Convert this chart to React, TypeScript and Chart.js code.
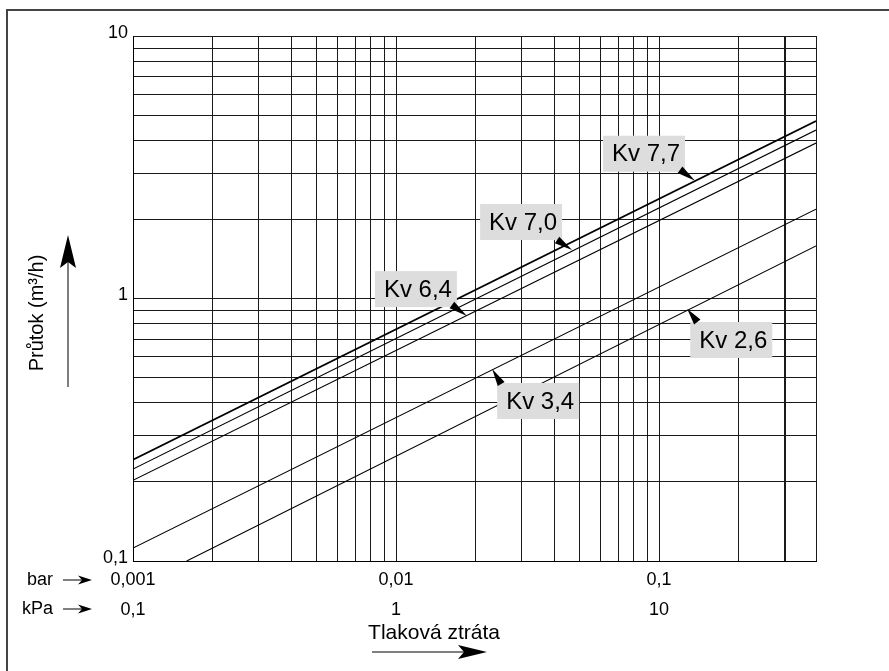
import React, { useEffect, useRef } from 'react';
import { Chart, registerables } from 'chart.js';

Chart.register(...registerables);

// ---- data ----
const seriesNames = ['Kv 7,7', 'Kv 7,0', 'Kv 6,4', 'Kv 3,4', 'Kv 2,6'];
const kv77X = [0.001, 0.395];
const kv77Y = [0.243, 4.74];
const kv70X = [0.001, 0.395];
const kv70Y = [0.224, 4.38];
const kv64X = [0.001, 0.395];
const kv64Y = [0.203, 3.91];
const kv34X = [0.001, 0.395];
const kv34Y = [0.112, 2.19];
const kv26X = [0.0016, 0.395];
const kv26Y = [0.1, 1.585];

// annotation arrow tips (data coordinates: bar, m3/h)
const labelTipX = [0.137, 0.0467, 0.0186, 0.0232, 0.128];
const labelTipY = [2.81, 1.53, 0.857, 0.539, 0.912];

// axes
const xMin = 0.001;
const xMax = 0.395;
const yMin = 0.1;
const yMax = 10;
const xDecades = [0.001, 0.01, 0.1];
const yDecades = [0.1, 1];
const gridMultipliers = [1, 2, 3, 4, 5, 6, 7, 8, 9];
const xMajorTicks = [0.001, 0.01, 0.1];
const xBarLabels = ['0,001', '0,01', '0,1'];
const xKpaLabels = ['0,1', '1', '10'];
const yMajorTicks = [0.1, 1, 10];
const yTickLabels = ['0,1', '1', '10'];
const thickGridX = 0.3;

const xTitle = 'Tlaková ztráta';
const yTitle = 'Průtok (m³/h)';
const unitBar = 'bar';
const unitKpa = 'kPa';

// ---- styles / layout (kept separate from data) ----
const FONT = '"Liberation Sans", Arial, Helvetica, sans-serif';
const labelOffsets = [
  { bx: -92, by: -45, tx: -15, ty: -11 },
  { bx: -92, by: -46, tx: -15, ty: -10 },
  { bx: -92, by: -45, tx: -15, ty: -11 },
  { bx: 5, by: 14, tx: 9, ty: 15 },
  { bx: 3, by: 13, tx: 10, ty: 13 },
];
const seriesWidths = [1.8, 1.1, 1.1, 1.1, 1.1];

const same = (a: number, b: number) => Math.abs(Math.log10(a) - Math.log10(b)) < 1e-6;

function buildGrid(decades: number[], min: number, max: number): number[] {
  const vals: number[] = [];
  decades.forEach((d) => gridMultipliers.forEach((m) => {
    const v = +(d * m).toPrecision(6);
    if (v >= min - 1e-12 && v <= max + 1e-12) vals.push(v);
  }));
  if (!vals.some((v) => same(v, max))) vals.push(max);
  return vals;
}

function arrowHead(ctx: CanvasRenderingContext2D, tipX: number, tipY: number, fromX: number, fromY: number, halfW: number) {
  const dx = tipX - fromX;
  const dy = tipY - fromY;
  const len = Math.hypot(dx, dy) || 1;
  const px = -dy / len;
  const py = dx / len;
  ctx.beginPath();
  ctx.moveTo(tipX, tipY);
  ctx.lineTo(fromX + px * halfW, fromY + py * halfW);
  ctx.lineTo(fromX - px * halfW, fromY - py * halfW);
  ctx.closePath();
  ctx.fill();
}

const decorPlugin = {
  id: 'decor',
  beforeDraw(chart: any) {
    const ctx: CanvasRenderingContext2D = chart.ctx;
    ctx.save();
    ctx.fillStyle = '#ffffff';
    ctx.fillRect(0, 0, chart.width, chart.height);
    ctx.strokeStyle = '#444';
    ctx.lineWidth = 2;
    ctx.strokeRect(7, 10, chart.width + 20, chart.height + 20);
    ctx.restore();
  },
  afterDatasetsDraw(chart: any) {
    const ctx: CanvasRenderingContext2D = chart.ctx;
    const xs = chart.scales.x;
    const ys = chart.scales.y;
    ctx.save();
    seriesNames.forEach((name, i) => {
      const tx = xs.getPixelForValue(labelTipX[i]);
      const ty = ys.getPixelForValue(labelTipY[i]);
      const o = labelOffsets[i];
      const bx = tx + o.bx;
      const by = ty + o.by;
      ctx.fillStyle = '#dddddd';
      ctx.fillRect(bx, by, 82, 36);
      ctx.fillStyle = '#000';
      ctx.font = `24px ${FONT}`;
      ctx.textAlign = 'center';
      ctx.textBaseline = 'middle';
      ctx.fillText(name, bx + 43, by + 19);
      arrowHead(ctx, tx, ty, tx + o.tx, ty + o.ty, 4);
    });
    ctx.restore();
  },
  afterDraw(chart: any) {
    const ctx: CanvasRenderingContext2D = chart.ctx;
    const a = chart.chartArea;
    ctx.save();
    ctx.fillStyle = '#000';
    ctx.strokeStyle = '#555';
    // unit rows
    ctx.font = `18px ${FONT}`;
    ctx.textAlign = 'right';
    ctx.textBaseline = 'middle';
    const rows = [{ t: unitBar, y: a.bottom + 19 }, { t: unitKpa, y: a.bottom + 48 }];
    rows.forEach((r) => {
      ctx.fillText(r.t, a.left - 80, r.y);
      ctx.lineWidth = 1.5;
      ctx.beginPath();
      ctx.moveTo(a.left - 70, r.y);
      ctx.lineTo(a.left - 50, r.y);
      ctx.stroke();
      ctx.fillStyle = '#000';
      ctx.beginPath();
      ctx.moveTo(a.left - 41, r.y);
      ctx.lineTo(a.left - 55, r.y - 4.5);
      ctx.lineTo(a.left - 51, r.y);
      ctx.lineTo(a.left - 55, r.y + 4.5);
      ctx.closePath();
      ctx.fill();
    });
    // x title
    ctx.font = `21px ${FONT}`;
    ctx.textAlign = 'center';
    ctx.textBaseline = 'middle';
    ctx.fillText(xTitle, a.left + 301, a.bottom + 72);
    const ay = a.bottom + 91;
    ctx.lineWidth = 1.5;
    ctx.beginPath();
    ctx.moveTo(a.left + 239, ay);
    ctx.lineTo(a.left + 332, ay);
    ctx.stroke();
    ctx.beginPath();
    ctx.moveTo(a.left + 354, ay);
    ctx.lineTo(a.left + 325, ay - 7);
    ctx.lineTo(a.left + 331, ay);
    ctx.lineTo(a.left + 325, ay + 7);
    ctx.closePath();
    ctx.fill();
    // y title
    ctx.save();
    ctx.translate(a.left - 96, a.top + 277);
    ctx.rotate(-Math.PI / 2);
    ctx.font = `20px ${FONT}`;
    ctx.textAlign = 'center';
    ctx.textBaseline = 'middle';
    ctx.fillText(yTitle, 0, 0);
    ctx.restore();
    const ax = a.left - 65;
    ctx.beginPath();
    ctx.moveTo(ax, a.top + 351);
    ctx.lineTo(ax, a.top + 225);
    ctx.stroke();
    ctx.beginPath();
    ctx.moveTo(ax, a.top + 199);
    ctx.lineTo(ax - 8, a.top + 232);
    ctx.lineTo(ax, a.top + 226);
    ctx.lineTo(ax + 8, a.top + 232);
    ctx.closePath();
    ctx.fill();
    ctx.restore();
  },
};

export default function App() {
  const ref = useRef<HTMLCanvasElement | null>(null);
  useEffect(() => {
    if (!ref.current) return;
    const mk = (xs: number[], ys: number[]) => xs.map((x, i) => ({ x, y: ys[i] }));
    const series = [mk(kv77X, kv77Y), mk(kv70X, kv70Y), mk(kv64X, kv64Y), mk(kv34X, kv34Y), mk(kv26X, kv26Y)];
    const xGrid = buildGrid(xDecades, xMin, xMax);
    const yGrid = buildGrid(yDecades, yMin, yMax);
    const chart = new Chart(ref.current, {
      type: 'line',
      data: {
        datasets: series.map((d, i) => ({
          label: seriesNames[i],
          data: d,
          borderColor: '#000',
          borderWidth: seriesWidths[i],
          pointRadius: 0,
          fill: false,
          tension: 0,
        })),
      },
      options: {
        animation: false,
        responsive: false,
        maintainAspectRatio: false,
        devicePixelRatio: 1,
        layout: { padding: { left: 73, right: 73, top: 36, bottom: 30 } },
        plugins: { legend: { display: false }, tooltip: { enabled: false } },
        scales: {
          x: {
            type: 'logarithmic',
            min: xMin,
            max: xMax,
            afterBuildTicks: (s: any) => { s.ticks = xGrid.map((v) => ({ value: v })); },
            afterFit: (s: any) => { s.height = 80; },
            border: { display: true, color: '#000', width: 1 },
            grid: {
              drawTicks: false,
              color: '#1a1a1a',
              lineWidth: (c: any) => (c.tick && same(c.tick.value, thickGridX) ? 2 : 1),
            },
            ticks: {
              autoSkip: false,
              maxRotation: 0,
              minRotation: 0,
              padding: 4,
              color: '#000',
              font: { family: FONT, size: 18, lineHeight: 30 / 18 },
              callback: (v: any) => {
                const i = xMajorTicks.findIndex((m) => same(m, Number(v)));
                return i >= 0 ? [xBarLabels[i], xKpaLabels[i]] : '';
              },
            },
          },
          y: {
            type: 'logarithmic',
            min: yMin,
            max: yMax,
            afterBuildTicks: (s: any) => { s.ticks = yGrid.map((v) => ({ value: v })); },
            afterFit: (s: any) => { s.width = 60; },
            border: { display: true, color: '#000', width: 1 },
            grid: { drawTicks: false, color: '#1a1a1a', lineWidth: 1 },
            ticks: {
              autoSkip: false,
              padding: 5,
              labelOffset: -3,
              color: '#000',
              font: { family: FONT, size: 18 },
              callback: (v: any) => {
                const i = yMajorTicks.findIndex((m) => same(m, Number(v)));
                return i >= 0 ? yTickLabels[i] : '';
              },
            },
          },
        },
      },
      plugins: [decorPlugin],
    } as any);
    return () => chart.destroy();
  }, []);
  return (
    <div style={{ position: 'absolute', left: 0, top: 0, width: 889, height: 671 }}>
      <canvas ref={ref} width={889} height={671} style={{ width: 889, height: 671, display: 'block' }} />
    </div>
  );
}
